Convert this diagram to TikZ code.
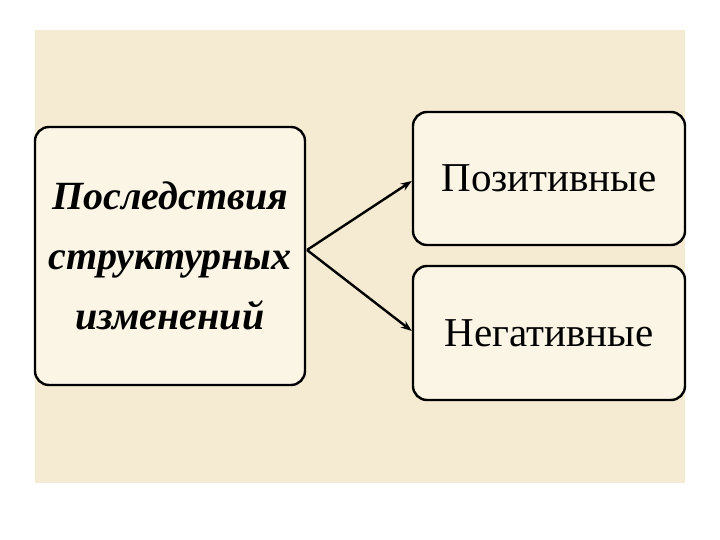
\documentclass[tikz,border=0pt]{standalone}
\usepackage{fontspec}
\setmainfont{Liberation Serif}
\usetikzlibrary{arrows.meta}
\definecolor{bg}{HTML}{F5EAD2}
\definecolor{boxfill}{HTML}{FBF5E6}
\begin{document}
\begin{tikzpicture}[x=1pt,y=-1pt,
  box/.style={draw=black,line width=2.4pt,rounded corners=14pt,fill=boxfill,inner sep=0pt},
  conn/.style={line width=2.4pt,-{Stealth[length=11pt,width=8pt]}}]
\useasboundingbox (0,0) rectangle (720,540);
\fill[white] (0,0) rectangle (720,540);
\fill[bg] (35,30) rectangle (685,483);
\node[box,minimum width=270pt,minimum height=258pt,align=center,font=\fontsize{40}{60}\selectfont\bfseries\itshape] (src) at (170,256) {Последствия\\структурных\\изменений};
\node[box,minimum width=272pt,minimum height=133pt,font=\fontsize{41}{48}\selectfont] (pos) at (549,178.5) {Позитивные};
\node[box,minimum width=272pt,minimum height=134pt,font=\fontsize{41}{48}\selectfont] (neg) at (549,333) {Негативные};
\coordinate (o) at (307,250);
\draw[conn] (o) -- (pos.west |- 0,181);
\draw[conn] (o) -- (neg.west |- 0,331);
\end{tikzpicture}
\end{document}
